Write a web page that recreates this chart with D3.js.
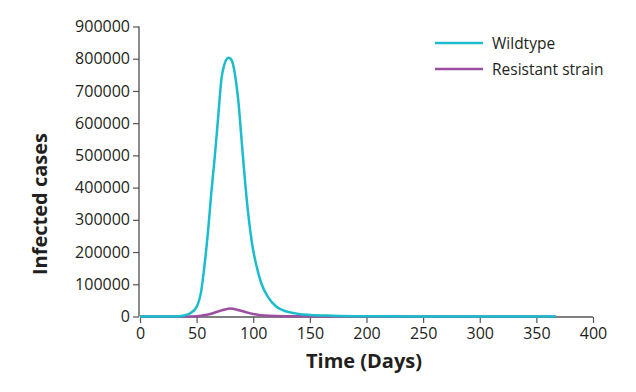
<!DOCTYPE html>
<html>
<head>
<meta charset="utf-8">
<script src="https://cdn.jsdelivr.net/npm/d3@7/dist/d3.min.js"></script>
<style>
  html, body { margin: 0; padding: 0; background: #fff; }
  svg { display: block; }
  text { font-family: "Open Sans", "DejaVu Sans", sans-serif; fill: #231f20; }
</style>
</head>
<body>
<svg id="chart" width="636" height="392"></svg>
<script>
const seriesNames = ["Wildtype", "Resistant strain"];
const seriesColors = ["#1bbdcd", "#9c4fa2"];

const wildDays =   [0, 30, 35, 40, 45, 50, 54, 57, 60, 63, 66, 69, 72, 74, 76, 78, 80, 82, 84, 87, 90, 93, 96, 99, 103, 107, 113, 120, 126, 132, 140, 150, 170, 200, 250, 300, 367];
const wildValues = [0, 0, 800, 4000, 12000, 30000, 78000, 160000, 262000, 385000, 495000, 618000, 740000, 776000, 796000, 803000, 800000, 785000, 748000, 662000, 535000, 410000, 305000, 225000, 155000, 104000, 61000, 32000, 20000, 13000, 8000, 5000, 2500, 1000, 300, 100, 0];

const resDays =   [0, 40, 50, 55, 60, 65, 70, 75, 80, 85, 90, 95, 100, 105, 110, 120, 140, 200, 367];
const resValues = [0, 0, 1000, 3000, 6000, 11000, 17000, 22000, 24500, 22000, 17000, 12000, 8000, 5000, 3000, 1500, 700, 200, 0];

const xTicks = [0, 50, 100, 150, 200, 250, 300, 350, 400];
const yTicks = [0, 100000, 200000, 300000, 400000, 500000, 600000, 700000, 800000, 900000];

const svg = d3.select("#chart");
const x = d3.scaleLinear().domain([0, 400]).range([140, 593]);
const y = d3.scaleLinear().domain([0, 900000]).range([316.5, 26.5]);

// Y axis
const yAxis = svg.append("g")
  .attr("transform", "translate(139,0)")
  .call(d3.axisLeft(y).tickValues(yTicks).tickFormat(d3.format("d")).tickSize(6).tickPadding(3));
yAxis.select(".domain").attr("stroke", "#8a8a8a").attr("stroke-width", 2).attr("d", "M0," + y(900000) + "V" + y(0));
yAxis.selectAll(".tick line").attr("stroke", "#555").attr("stroke-width", 1.2);
yAxis.selectAll(".tick text").attr("font-size", "16px").attr("fill", "#231f20")
  .style("font-family", "'Open Sans', sans-serif");

// X axis
const xAxis = svg.append("g")
  .attr("transform", "translate(0,317)")
  .call(d3.axisBottom(x).tickValues(xTicks).tickFormat(d3.format("d")).tickSize(6).tickPadding(5));
xAxis.select(".domain").attr("stroke", "#555").attr("stroke-width", 1.5).attr("d", "M" + x(0) + ",0H" + x(400));
xAxis.selectAll(".tick line").attr("stroke", "#555").attr("stroke-width", 1.2);
xAxis.selectAll(".tick text").attr("font-size", "16px").attr("fill", "#231f20")
  .style("font-family", "'Open Sans', sans-serif");

// Lines
const line = d3.line().x(d => x(d[0])).y(d => y(d[1])).curve(d3.curveMonotoneX);
const wildData = wildDays.map((d, i) => [d, wildValues[i]]);
const resData = resDays.map((d, i) => [d, resValues[i]]);

svg.append("path").datum(resData).attr("d", line)
  .attr("fill", "none").attr("stroke", seriesColors[1]).attr("stroke-width", 2.5);
svg.append("path").datum(wildData).attr("d", line)
  .attr("fill", "none").attr("stroke", seriesColors[0]).attr("stroke-width", 2.5);

// Axis titles
svg.append("text").attr("x", 364).attr("y", 368).attr("text-anchor", "middle")
  .attr("font-size", "20px").attr("font-weight", "bold").text("Time (Days)");
svg.append("text").attr("transform", "translate(47,204) rotate(-90)").attr("text-anchor", "middle")
  .attr("font-size", "20px").attr("font-weight", "bold").text("Infected cases");

// Legend
const legend = svg.append("g");
seriesNames.forEach((name, i) => {
  const ly = 43 + i * 26;
  legend.append("line").attr("x1", 435).attr("x2", 483).attr("y1", ly).attr("y2", ly)
    .attr("stroke", seriesColors[i]).attr("stroke-width", 2.5);
  legend.append("text").attr("x", 492).attr("y", ly + 5.5).attr("font-size", "15.5px").text(name);
});
</script>
</body>
</html>
